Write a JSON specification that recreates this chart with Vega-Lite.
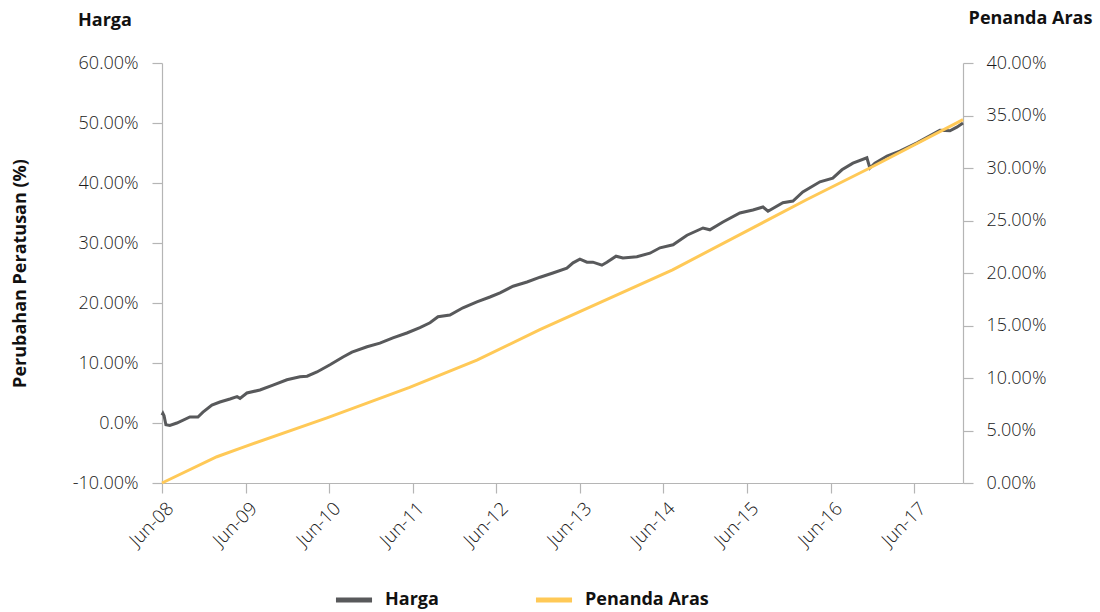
{
  "$schema": "https://vega.github.io/schema/vega-lite/v6.json",
  "width": 801,
  "height": 420,
  "autosize": "none",
  "padding": {"left": 162, "top": 63, "right": 137, "bottom": 129},
  "background": "white",
  "config": {
    "font": "Open Sans",
    "view": {"stroke": null},
    "axis": {"grid": false, "domainColor": "#b5b5b5", "tickColor": "#b5b5b5", "tickSize": 10, "labelFont": "Open Sans", "labelFontSize": 18, "labelColor": "#1a1a1a", "labelFontWeight": 300, "titleFont": "Open Sans", "titleFontSize": 18, "titleFontWeight": "bold", "titleColor": "#111111", "domainWidth": 1.2, "tickWidth": 1.2}
  },
  "title": {"text": "Harga", "anchor": "start", "frame": "group", "dx": -84, "fontSize": 18, "fontWeight": "bold", "font": "Open Sans", "color": "#111111", "offset": -21},
  "datasets": {
    "harga": [
      {"date": "2008-06-01", "series": "Harga", "value": 1.3},
      {"date": "2008-06-05", "series": "Harga", "value": 1.6},
      {"date": "2008-06-10", "series": "Harga", "value": 1.2},
      {"date": "2008-06-18", "series": "Harga", "value": -0.3},
      {"date": "2008-07-05", "series": "Harga", "value": -0.4},
      {"date": "2008-08-05", "series": "Harga", "value": 0.0},
      {"date": "2008-10-01", "series": "Harga", "value": 1.0},
      {"date": "2008-11-05", "series": "Harga", "value": 1.0},
      {"date": "2008-11-27", "series": "Harga", "value": 1.8},
      {"date": "2009-01-05", "series": "Harga", "value": 3.0},
      {"date": "2009-02-09", "series": "Harga", "value": 3.5},
      {"date": "2009-03-25", "series": "Harga", "value": 4.0},
      {"date": "2009-04-25", "series": "Harga", "value": 4.4},
      {"date": "2009-05-08", "series": "Harga", "value": 4.1},
      {"date": "2009-06-07", "series": "Harga", "value": 5.0},
      {"date": "2009-08-03", "series": "Harga", "value": 5.5},
      {"date": "2009-09-29", "series": "Harga", "value": 6.3},
      {"date": "2009-11-29", "series": "Harga", "value": 7.2},
      {"date": "2010-01-25", "series": "Harga", "value": 7.7},
      {"date": "2010-02-25", "series": "Harga", "value": 7.8},
      {"date": "2010-04-09", "series": "Harga", "value": 8.5},
      {"date": "2010-06-05", "series": "Harga", "value": 9.7},
      {"date": "2010-08-01", "series": "Harga", "value": 11.0},
      {"date": "2010-09-09", "series": "Harga", "value": 11.8},
      {"date": "2010-11-14", "series": "Harga", "value": 12.7},
      {"date": "2011-01-09", "series": "Harga", "value": 13.3},
      {"date": "2011-03-07", "series": "Harga", "value": 14.2},
      {"date": "2011-05-07", "series": "Harga", "value": 15.0},
      {"date": "2011-07-03", "series": "Harga", "value": 15.9},
      {"date": "2011-08-16", "series": "Harga", "value": 16.7},
      {"date": "2011-09-20", "series": "Harga", "value": 17.7},
      {"date": "2011-11-11", "series": "Harga", "value": 18.0},
      {"date": "2012-01-07", "series": "Harga", "value": 19.2},
      {"date": "2012-03-08", "series": "Harga", "value": 20.2},
      {"date": "2012-05-04", "series": "Harga", "value": 21.0},
      {"date": "2012-06-17", "series": "Harga", "value": 21.7},
      {"date": "2012-08-13", "series": "Harga", "value": 22.8},
      {"date": "2012-10-13", "series": "Harga", "value": 23.5},
      {"date": "2012-12-09", "series": "Harga", "value": 24.3},
      {"date": "2013-02-03", "series": "Harga", "value": 25.0},
      {"date": "2013-04-05", "series": "Harga", "value": 25.8},
      {"date": "2013-05-02", "series": "Harga", "value": 26.7},
      {"date": "2013-06-01", "series": "Harga", "value": 27.3},
      {"date": "2013-07-02", "series": "Harga", "value": 26.8},
      {"date": "2013-07-28", "series": "Harga", "value": 26.8},
      {"date": "2013-09-05", "series": "Harga", "value": 26.3},
      {"date": "2013-09-27", "series": "Harga", "value": 26.8},
      {"date": "2013-11-06", "series": "Harga", "value": 27.8},
      {"date": "2013-12-06", "series": "Harga", "value": 27.5},
      {"date": "2014-02-05", "series": "Harga", "value": 27.7},
      {"date": "2014-04-03", "series": "Harga", "value": 28.3},
      {"date": "2014-05-17", "series": "Harga", "value": 29.2},
      {"date": "2014-07-13", "series": "Harga", "value": 29.7},
      {"date": "2014-09-12", "series": "Harga", "value": 31.3},
      {"date": "2014-11-21", "series": "Harga", "value": 32.5},
      {"date": "2014-12-21", "series": "Harga", "value": 32.2},
      {"date": "2015-02-16", "series": "Harga", "value": 33.5},
      {"date": "2015-05-01", "series": "Harga", "value": 35.0},
      {"date": "2015-06-27", "series": "Harga", "value": 35.5},
      {"date": "2015-08-10", "series": "Harga", "value": 36.0},
      {"date": "2015-09-01", "series": "Harga", "value": 35.3},
      {"date": "2015-11-05", "series": "Harga", "value": 36.7},
      {"date": "2015-12-19", "series": "Harga", "value": 37.0},
      {"date": "2016-01-31", "series": "Harga", "value": 38.5},
      {"date": "2016-04-15", "series": "Harga", "value": 40.2},
      {"date": "2016-06-10", "series": "Harga", "value": 40.8},
      {"date": "2016-07-20", "series": "Harga", "value": 42.2},
      {"date": "2016-09-06", "series": "Harga", "value": 43.3},
      {"date": "2016-11-06", "series": "Harga", "value": 44.2},
      {"date": "2016-11-19", "series": "Harga", "value": 42.5},
      {"date": "2016-12-11", "series": "Harga", "value": 43.3},
      {"date": "2017-02-02", "series": "Harga", "value": 44.5},
      {"date": "2017-03-30", "series": "Harga", "value": 45.3},
      {"date": "2017-06-13", "series": "Harga", "value": 46.7},
      {"date": "2017-09-21", "series": "Harga", "value": 48.8},
      {"date": "2017-11-04", "series": "Harga", "value": 48.7},
      {"date": "2017-12-04", "series": "Harga", "value": 49.3},
      {"date": "2017-12-31", "series": "Harga", "value": 50.0}
    ],
    "aras": [
      {"date": "2008-06-01", "series": "Penanda Aras", "value": 0.0},
      {"date": "2009-01-27", "series": "Penanda Aras", "value": 2.5},
      {"date": "2009-05-20", "series": "Penanda Aras", "value": 3.4},
      {"date": "2010-05-23", "series": "Penanda Aras", "value": 6.2},
      {"date": "2011-05-19", "series": "Penanda Aras", "value": 9.1},
      {"date": "2012-03-08", "series": "Penanda Aras", "value": 11.7},
      {"date": "2012-12-08", "series": "Penanda Aras", "value": 14.6},
      {"date": "2014-07-11", "series": "Penanda Aras", "value": 20.3},
      {"date": "2016-02-18", "series": "Penanda Aras", "value": 27.0},
      {"date": "2016-11-19", "series": "Penanda Aras", "value": 30.0},
      {"date": "2017-12-31", "series": "Penanda Aras", "value": 34.6}
    ]
  },
  "encoding": {
    "x": {
      "field": "date", "type": "temporal",
      "scale": {"domain": ["2008-06-01", "2017-12-31"]},
      "axis": {
        "title": null, "format": "%b-%y", "labelAngle": -45, "labelAlign": "right", "labelBaseline": "middle", "labelPadding": 12, "labelOffset": 8, "labelFontSize": 18.5,
        "values": ["2008-06-01", "2009-06-01", "2010-06-01", "2011-06-01", "2012-06-01", "2013-06-01", "2014-06-01", "2015-06-01", "2016-06-01", "2017-06-01"]
      }
    },
    "color": {
      "field": "series", "type": "nominal",
      "scale": {"domain": ["Harga", "Penanda Aras"], "range": ["#58595b", "#ffc957"]},
      "legend": {
        "title": null, "orient": "none", "legendX": 171, "legendY": 516, "direction": "horizontal",
        "symbolType": "stroke", "symbolStrokeWidth": 5, "symbolSize": 1300, "labelFont": "Open Sans", "labelFontSize": 18, "labelFontWeight": "bold", "labelColor": "#111111", "labelOffset": 10, "columnPadding": 86
      }
    }
  },
  "layer": [
    {
      "data": {"name": "harga"},
      "mark": {"type": "line", "strokeWidth": 3, "interpolate": "linear"},
      "encoding": {
        "y": {
          "field": "value", "type": "quantitative",
          "scale": {"domain": [-10, 60], "nice": false},
          "axis": {"values": [-10, 0, 10, 20, 30, 40, 50, 60], "labelExpr": "datum.value == 0 ? '0.0%' : (datum.value < 0 ? '-' + format(-datum.value, '.2f') : format(datum.value, '.2f')) + '%'", "title": "Perubahan Peratusan (%)", "titleAngle": -90, "titleX": -142, "titleY": 210, "titleAlign": "center", "titleBaseline": "middle", "labelPadding": 14}
        }
      }
    },
    {
      "data": {"name": "aras"},
      "mark": {"type": "line", "strokeWidth": 3},
      "encoding": {
        "y": {
          "field": "value", "type": "quantitative",
          "scale": {"domain": [0, 40], "nice": false},
          "axis": {"orient": "right", "values": [0, 5, 10, 15, 20, 25, 30, 35, 40], "labelExpr": "format(datum.value, '.2f') + '%'", "title": "Penanda Aras", "titleAngle": 0, "titleX": 67, "titleY": -45, "titleAlign": "center", "titleBaseline": "middle", "labelPadding": 13}
        }
      }
    }
  ],
  "resolve": {"scale": {"y": "independent"}}
}
